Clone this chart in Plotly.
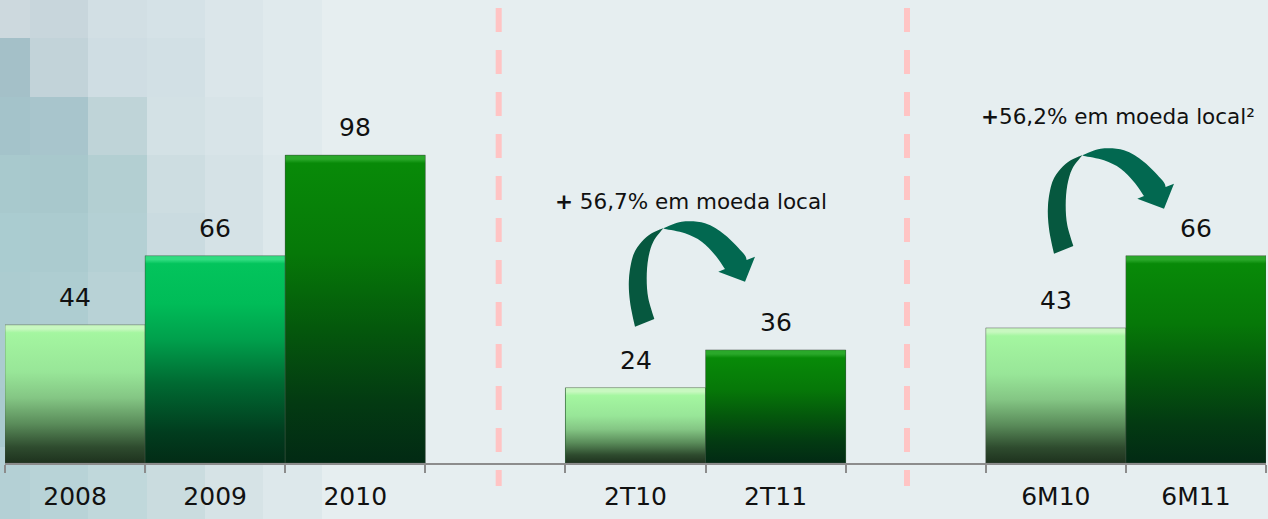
import plotly.graph_objects as go

# ---------------- data ----------------
categories = ["2008", "2009", "2010", "", "2T10", "2T11", "", "6M10", "6M11"]
values = [44, 66, 98, None, 24, 36, None, 43, 66]
bar_styles = ["light", "mid", "dark", None, "light", "dark", None, "light", "dark"]
growth_labels = ["<b>+</b> 56,7% em moeda local", "<b>+</b>56,2% em moeda local²"]

# ---------------- layout constants ----------------
W, H = 1268, 519
ML, MR, MT, MB = 5, 2, 0, 56
YMAX = 147.4
FONT = "DejaVu Sans"
plot_w = W - ML - MR
plot_h = H - MT - MB
slot_px = plot_w / len(categories)
ppu = plot_h / YMAX


def xd(px):
    return (px - ML) / slot_px - 0.5


def yd(py):
    return (MT + plot_h - py) / ppu


def xp(px):
    return (px - ML) / plot_w


def yp(py):
    return (MT + plot_h - py) / plot_h


SCALES = {
    "light": [[0, "#1e321e"], [0.12, "#2e4b2e"], [0.3, "#5a8c5a"], [0.5, "#84c684"],
              [0.7, "#98e698"], [0.9, "#a4f6a0"]],
    "mid": [[0, "#022c16"], [0.15, "#013c1e"], [0.4, "#006a32"], [0.62, "#00a04c"],
            [0.8, "#00bc58"], [0.9, "#03c45c"]],
    "dark": [[0, "#022a14"], [0.2, "#033a12"], [0.45, "#04580c"], [0.7, "#067808"],
             [0.9, "#088a08"]],
}
HILITE = {"light": "#c8f8c0", "mid": "#30dc80", "dark": "#2aa82a"}

fig = go.Figure()

xs = [i for i, v in enumerate(values) if v is not None]
ys = [v for v in values if v is not None]

# real bar trace (data)
fig.add_trace(go.Bar(x=xs, y=ys, width=1, marker=dict(color="#0a7a20", line=dict(width=0)),
                     hoverinfo="x+y", showlegend=False))

# gradient overlays for each bar
for i, (v, st) in enumerate(zip(values, bar_styles)):
    if v is None:
        continue
    frac_hi = max(0.0, 1 - 4.0 / (v * ppu))
    frac_base = max(0.0, 1 - 8.0 / (v * ppu))
    cs = [[s * frac_base if s < 0.9 else frac_base, c] for s, c in SCALES[st]]
    cs[-1][0] = frac_base
    cs += [[frac_hi, HILITE[st]], [1, HILITE[st]]]
    fig.add_trace(go.Scatter(
        x=[i - 0.5, i - 0.5, i + 0.5, i + 0.5, i - 0.5],
        y=[0, v, v, 0, 0],
        mode="lines", fill="toself",
        line=dict(width=1, color="rgba(70,80,70,0.45)"),
        fillgradient=dict(type="vertical", colorscale=cs, start=0, stop=v),
        hoverinfo="skip", showlegend=False))

# value labels
annotations = []
for i, v in enumerate(values):
    if v is None:
        continue
    annotations.append(dict(x=i, y=v, xref="x", yref="y", text=str(v), showarrow=False,
                            yanchor="bottom", yshift=11,
                            font=dict(family=FONT, size=25, color="#111111")))

# growth labels
for (cx, cy), txt in zip([(691, 201), (1118, 116)], growth_labels):
    annotations.append(dict(x=xd(cx), y=yd(cy), xref="x", yref="y", text=txt, showarrow=False,
                            xanchor="center", yanchor="middle",
                            font=dict(family=FONT, size=21.5, color="#111111")))

shapes = []

# background tiles
col_edges = [0, 30, 88, 147, 205, 263, 322]
row_edges = [0, 38, 97, 155, 213, 272, 330, 388, 447, 519]
tile_colors = [
    ["#cdd9de", "#c8d6dc", "#d2dfe4", "#d5e2e7", "#dbe6ea", "#e0eaed"],
    ["#a4c0c8", "#c2d3d9", "#cfdde3", "#d2e0e5", "#dbe6ea", "#e0eaed"],
    ["#a4c3ca", "#a8c5cc", "#bfd4d8", "#d3e1e5", "#d8e4e8", "#e0eaed"],
    ["#a8c9cd", "#a8c8cc", "#b3cfd2", "#cddde1", "#d5e2e6", "#dde8eb"],
    ["#aaccd0", "#abcbcf", "#b4d0d4", "#cadbe0", "#d5e2e6", "#dde8eb"],
    ["#acccd0", "#aecdd1", "#b8d2d6", "#cadbdf", "#d4e1e5", "#dce7ea"],
    ["#abcbcf", "#b0cfd3", "#b8d3d7", "#c8dade", "#d4e1e5", "#dce7ea"],
    ["#aacacf", "#b2d0d4", "#bad4d8", "#c8dade", "#d4e1e5", "#dce7ea"],
    ["#b4d0d5", "#b8d3d7", "#c0d8db", "#cadcdf", "#d6e3e6", "#dde8eb"],
]
for r in range(len(row_edges) - 1):
    for c in range(len(col_edges) - 1):
        shapes.append(dict(type="rect", xref="paper", yref="paper", layer="below",
                           x0=xp(col_edges[c]), x1=xp(col_edges[c + 1]),
                           y0=yp(row_edges[r]), y1=yp(row_edges[r + 1]),
                           fillcolor=tile_colors[r][c], line=dict(width=0)))

# dashed separators
for px in (498.7, 907):
    shapes.append(dict(type="line", xref="x", yref="paper", x0=xd(px), x1=xd(px),
                       y0=yp(8), y1=yp(486), layer="below",
                       line=dict(color="#ffc4c4", width=6, dash="24px,18px")))

# curved arrows: outline pieces in pixels (smooth runs joined by straight corners)
arrow_back = [
    [(635, 326.7), (630, 301.7), (629, 278.3), (633.3, 255), (641.7, 241.7),
     (651.7, 233.3), (663.3, 228.3)],
    [(663.3, 228.3), (653.3, 241.7), (648.3, 258.3), (646.7, 278.3), (648.3, 298.3),
     (654.3, 319)],
]
arrow_front = [
    [(663.3, 228.3), (681.7, 221.7), (705, 223.3), (725, 235), (743.3, 253.3), (746.7, 260)],
    [(746.7, 260), (755, 256.7), (745, 281.7), (718.3, 271.7), (725, 269)],
    [(725, 269), (715, 255), (701.7, 241.7), (685, 233.3), (665, 229)],
]
smooth_flags_back = [True, True]
smooth_flags_front = [True, False, True]


def fmt(x, y, dx, dy):
    return f"{xd(x + dx):.5f},{yd(y + dy):.5f}"


def run_path(pts, smooth, dx, dy):
    out = []
    if not smooth or len(pts) < 3:
        for x, y in pts[1:]:
            out.append("L " + fmt(x, y, dx, dy))
        return out
    ext = [pts[0]] + pts + [pts[-1]]
    for k in range(1, len(ext) - 2):
        p0, p1, p2, p3 = ext[k - 1], ext[k], ext[k + 1], ext[k + 2]
        c1 = (p1[0] + (p2[0] - p0[0]) / 6, p1[1] + (p2[1] - p0[1]) / 6)
        c2 = (p2[0] - (p3[0] - p1[0]) / 6, p2[1] - (p3[1] - p1[1]) / 6)
        out.append("C " + fmt(*c1, dx, dy) + " " + fmt(*c2, dx, dy) + " " + fmt(*p2, dx, dy))
    return out


def outline(runs, flags, dx=0, dy=0):
    parts = ["M " + fmt(*runs[0][0], dx, dy)]
    for pts, sm in zip(runs, flags):
        parts += run_path(pts, sm, dx, dy)
    return " ".join(parts) + " Z"


for dx, dy in ((0, 0), (419, -73)):
    shapes.append(dict(type="path", xref="x", yref="y",
                       path=outline(arrow_back, smooth_flags_back, dx, dy),
                       fillcolor="#06583f", line=dict(width=0)))
    shapes.append(dict(type="path", xref="x", yref="y",
                       path=outline(arrow_front, smooth_flags_front, dx, dy),
                       fillcolor="#026850", line=dict(width=0)))

fig.update_layout(
    width=W, height=H,
    margin=dict(l=ML, r=MR, t=MT, b=MB),
    paper_bgcolor="#e6eef0", plot_bgcolor="rgba(0,0,0,0)",
    showlegend=False, bargap=0,
    font=dict(family=FONT, size=25, color="#111111"),
    annotations=annotations, shapes=shapes,
    xaxis=dict(range=[-0.5, len(categories) - 0.5], tickmode="array",
               tickvals=xs, ticktext=[categories[i] for i in xs],
               ticks="", showgrid=False, zeroline=False,
               showline=True, linecolor="#8c8c8c", linewidth=2,
               ticklabelstandoff=10,
               tickfont=dict(family=FONT, size=25, color="#111111"),
               minor=dict(tickmode="array",
                          tickvals=[i - 0.5 for i in range(len(categories) + 1)],
                          ticks="outside", ticklen=8, tickwidth=2, tickcolor="#8c8c8c",
                          showgrid=False)),
    yaxis=dict(range=[0, YMAX], visible=False, showgrid=False, zeroline=False),
)

fig.write_html("out.html",
               config={"displayModeBar": False},
               post_script="document.body.style.margin='0';document.body.style.overflow='hidden';")
